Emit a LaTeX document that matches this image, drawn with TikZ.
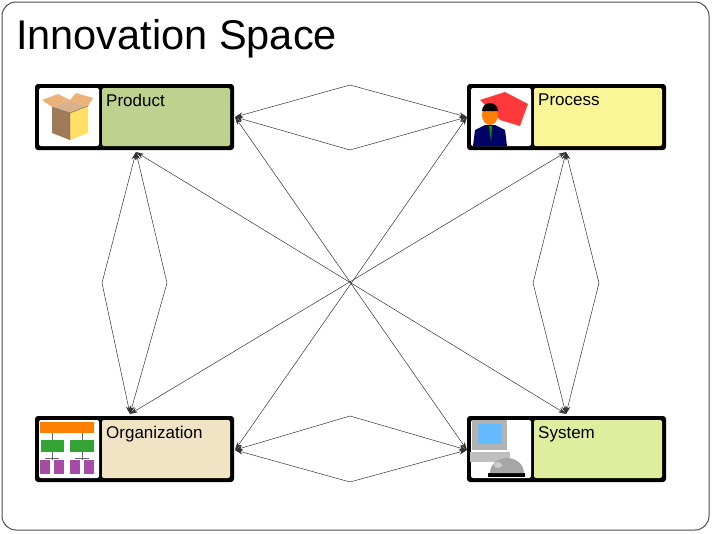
\documentclass[tikz,border=0pt]{standalone}
\usepackage{fontspec}
\setmainfont{Liberation Sans}
\usetikzlibrary{arrows.meta}
\begin{document}
\begin{tikzpicture}[x=1pt,y=-1pt,
  conn/.style={draw=black!80,line width=0.5pt,{Stealth[length=8pt,width=5pt]}-{Stealth[length=8pt,width=5pt]}},
  seg/.style={draw=black!80,line width=0.5pt,-{Stealth[length=8pt,width=5pt]}},
  lbl/.style={anchor=north west,inner sep=0pt,font=\fontsize{17}{20}\selectfont}]
\useasboundingbox (0,0) rectangle (712,533);
\draw[black!70,rounded corners=14pt,line width=1pt] (2,2) rectangle (709,530);
\node[anchor=west,inner sep=0pt,font=\fontsize{41.5}{48}\selectfont] (title) at (16,39) {Innovation Space};
\definecolor{cprod}{RGB}{191,209,143}
\definecolor{cproc}{RGB}{250,245,150}
\definecolor{corg}{RGB}{240,228,196}
\definecolor{csys}{RGB}{222,237,158}
\newcommand\ibox[5]{%
  \fill[black,rounded corners=3pt] (#1,#2) rectangle ++(199,66);
  \fill[white,rounded corners=2pt] (#1+4,#2+4) rectangle ++(60,58);
  \fill[#3,rounded corners=2pt] (#1+67,#2+4) rectangle ++(128,58);
  \node[lbl] (#4) at (#1+71,#2+10) {#5};}
\ibox{35}{84}{cprod}{lp}{Product}
\ibox{467}{84}{cproc}{lq}{Process}
\ibox{35}{416}{corg}{lo}{Organization}
\ibox{467}{416}{csys}{ls}{System}
\coordinate (pr) at (235,117); \coordinate (pb) at (136,152);
\coordinate (ql) at (467,117); \coordinate (qb) at (566,152);
\coordinate (ot) at (130,414); \coordinate (or) at (235,450);
\coordinate (st) at (566,414); \coordinate (sl) at (467,450);
\coordinate (m1) at (350,85); \coordinate (m2) at (350,150);
\coordinate (m3) at (102,283); \coordinate (m4) at (167,283);
\coordinate (m5) at (533,283); \coordinate (m6) at (599,283);
\coordinate (m7) at (350,416); \coordinate (m8) at (350,482);
\foreach \a/\b in {m1/pr,m2/pr,m1/ql,m2/ql,m3/pb,m4/pb,m3/ot,m4/ot,m5/qb,m6/qb,m5/st,m6/st,m7/or,m8/or,m7/sl,m8/sl}
  \draw[seg] (\a) -- (\b);
\draw[conn] (pb) -- (st);
\draw[conn] (pr) -- (sl);
\draw[conn] (ql) -- (or);
\draw[conn] (qb) -- (ot);
% box icon
\fill[brown!70!black!80] (52,107)--(70,113)--(70,140)--(52,133)--cycle;
\fill[orange!40!yellow!60] (70,113)--(88,106)--(88,133)--(70,140)--cycle;
\fill[brown!60] (52,107)--(70,100)--(88,106)--(70,113)--cycle;
\fill[brown!50!orange!60] (52,107)--(42,100)--(58,94)--(70,100)--cycle;
\fill[brown!50!orange!60] (70,100)--(76,93)--(93,98)--(88,106)--cycle;
\draw[black!70,line width=0.3pt] (52,107)--(70,113)--(88,106) (70,113)--(70,140);
% process icon
\fill[red!70!pink] (480,100)--(505,92)--(528,104)--(520,126)--(500,120)--cycle;
\fill[blue!40!black] (473,146)--(475,130)--(485,125)--(495,125)--(505,130)--(507,146)--cycle;
\fill[orange] (490,115) ellipse (8pt and 10pt);
\fill[black] (482,111) arc (180:0:8pt) -- cycle;
\fill[green!60!black] (489,126)--(492,126)--(491,142)--cycle;
% org chart
\fill[orange] (40,422) rectangle (94,433);
\fill[green!55!black!80] (41,440) rectangle (64,452); \fill[green!55!black!80] (70,440) rectangle (94,452);
\draw[black!60] (52,433)--(52,440) (82,433)--(82,440) (52,452)--(52,460) (82,452)--(82,460);
\draw[black!60] (45,458)--(59,458) (75,458)--(89,458);
\foreach \x in {45,59,75,89} \fill[violet!70] (\x-5,460) rectangle (\x+5,474);
% computer
\fill[gray!60] (472,420) rectangle (507,450);
\fill[blue!45!cyan!60] (478,424) rectangle (502,444);
\fill[gray!50] (470,452) rectangle (510,462);
\fill[black] (488,473) rectangle (525,477);
\fill[gray!70] (490,473) arc (180:0:17pt and 15pt) -- cycle;
\fill[gray!40] (498,465) ellipse (4pt and 3pt);
\end{tikzpicture}
\end{document}
